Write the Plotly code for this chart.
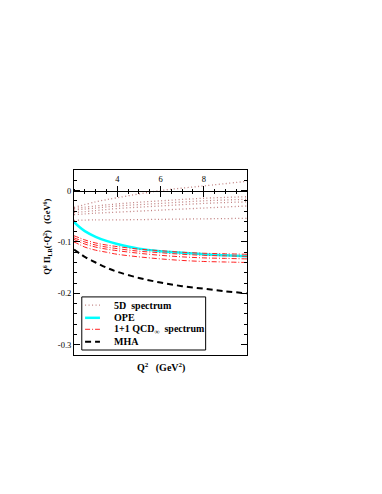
import plotly.graph_objects as go

# Q^2 sample points (GeV^2)
q2_5d = [2, 3, 4, 6, 8, 10]
spec_5d = [
    [-0.033, -0.022, -0.014, 0.000, 0.009, 0.018],
    [-0.035, -0.030, -0.026, -0.020, -0.015, -0.012],
    [-0.038, -0.034, -0.030, -0.025, -0.020, -0.017],
    [-0.043, -0.039, -0.035, -0.030, -0.025, -0.022],
    [-0.047, -0.044, -0.042, -0.038, -0.034, -0.030],
    [-0.058, -0.057, -0.057, -0.056, -0.055, -0.054],
]

q2 = [2, 2.25, 2.5, 3, 3.5, 4, 5, 6, 7, 8, 9, 10]
ope = [-0.061, -0.071, -0.079, -0.090, -0.098, -0.104, -0.113, -0.118, -0.121, -0.124, -0.126, -0.128]
mha = [-0.115, -0.122, -0.129, -0.140, -0.150, -0.158, -0.170, -0.179, -0.186, -0.191, -0.196, -0.200]
qcd_spec = [
    [-0.088, -0.092, -0.096, -0.102, -0.106, -0.109, -0.114, -0.117, -0.120, -0.122, -0.123, -0.124],
    [-0.092, -0.096, -0.100, -0.106, -0.110, -0.113, -0.118, -0.121, -0.124, -0.126, -0.127, -0.128],
    [-0.095, -0.100, -0.104, -0.110, -0.114, -0.117, -0.122, -0.126, -0.129, -0.131, -0.132, -0.133],
    [-0.100, -0.105, -0.110, -0.116, -0.120, -0.124, -0.129, -0.133, -0.136, -0.138, -0.139, -0.140],
]

x_ticks = [4, 6, 8]
y_ticks = [0, -0.1, -0.2, -0.3]
y_tick_text = ["0", "-0.1", "-0.2", "-0.3"]

legend_names = ["5D  spectrum", "OPE", "1+1 QCD<sub>\u221e</sub>  spectrum", "MHA"]

serif = "Liberation Serif"
c_5d = "#c08080"
c_ope = "#00ffff"
c_qcd = "#ff2020"

styles = [
    dict(color=c_5d, width=1.3, dash="1px,2.5px"),
    dict(color=c_ope, width=2.5),
    dict(color=c_qcd, width=1, dash="5px,2px,1px,2px"),
    dict(color="black", width=2, dash="6px,4px"),
]

fig = go.Figure()

for ys in spec_5d:
    fig.add_trace(go.Scatter(x=q2_5d, y=ys, mode="lines", line_shape="spline",
                             line=styles[0], name=legend_names[0]))

fig.add_trace(go.Scatter(x=q2, y=ope, mode="lines", line_shape="spline",
                         line=styles[1], name=legend_names[1]))

for ys in qcd_spec:
    fig.add_trace(go.Scatter(x=q2, y=ys, mode="lines", line_shape="spline",
                             line=styles[2], name=legend_names[2]))

fig.add_trace(go.Scatter(x=q2, y=mha, mode="lines", line_shape="spline",
                         line=styles[3], name=legend_names[3]))

# empty traces so the overlaid axes at y=0 get drawn
for ax in ["x2", "x3"]:
    fig.add_trace(go.Scatter(x=[None], y=[None], xaxis=ax, showlegend=False, hoverinfo="skip"))

zero_pos = 0.32 / 0.36

# hand-made legend box (plotly's own legend rows are too tall here)
shapes = [dict(type="rect", xref="paper", yref="paper", x0=0.045, x1=0.761, y0=0.027, y1=0.314,
               line=dict(color="black", width=1), fillcolor="white", layer="above")]
annotations = []
row_y = [0.270, 0.201, 0.139, 0.072]
for name, st, yy in zip(legend_names, styles, row_y):
    shapes.append(dict(type="line", xref="paper", yref="paper", x0=0.064, x1=0.150, y0=yy, y1=yy,
                       line=st, layer="above"))
    annotations.append(dict(text=name, xref="paper", yref="paper", x=0.222, y=yy,
                            xanchor="left", yanchor="middle", showarrow=False,
                            font=dict(family=serif, size=10, weight="bold")))

annotations += [
    dict(text="Q<sup>2</sup>   (GeV<sup>2</sup>)", xref="paper", yref="paper", x=0.5, y=-0.07,
         xanchor="center", yanchor="middle",
         showarrow=False, font=dict(family=serif, size=10, weight="bold")),
    dict(text="Q<sup>6</sup> \u03a0<sub>LR</sub>(-Q<sup>2</sup>)   (GeV<sup>6</sup>)",
         xref="paper", yref="paper", x=-0.155, y=0.64, textangle=-90,
         xanchor="center", yanchor="middle",
         showarrow=False, font=dict(family=serif, size=8.5, weight="bold")),
]

fig.update_layout(
    width=382, height=494,
    margin=dict(l=66, r=143, t=162, b=147),
    paper_bgcolor="white", plot_bgcolor="white",
    font=dict(family=serif, color="black", size=9),
    showlegend=False,
    xaxis=dict(range=[2, 10], showline=True, linecolor="black", linewidth=1, mirror=True,
               showgrid=False, zeroline=False, showticklabels=False, ticks=""),
    xaxis2=dict(range=[2, 10], overlaying="x", anchor="free", position=zero_pos, side="top",
                showline=True, linecolor="black", linewidth=1, showgrid=False, zeroline=False,
                tickvals=x_ticks, ticks="outside", ticklen=5, tickcolor="black",
                tickfont=dict(family=serif, size=8.5), ticklabelstandoff=0,
                minor=dict(dtick=0.5, tick0=2, ticks="outside", ticklen=2, tickcolor="black")),
    xaxis3=dict(range=[2, 10], overlaying="x", anchor="free", position=zero_pos, side="top",
                showline=False, showgrid=False, zeroline=False, showticklabels=False,
                tickvals=x_ticks, ticks="inside", ticklen=5, tickcolor="black",
                minor=dict(dtick=0.5, tick0=2, ticks="inside", ticklen=2, tickcolor="black")),
    yaxis=dict(range=[-0.32, 0.04], showline=True, linecolor="black", linewidth=1, mirror="ticks",
               showgrid=False, zeroline=False,
               tickvals=y_ticks, ticktext=y_tick_text, ticks="inside", ticklen=6, tickcolor="black",
               tickfont=dict(family=serif, size=8.5),
               minor=dict(dtick=0.02, tick0=0, ticks="inside", ticklen=3, tickcolor="black")),
    shapes=shapes,
    annotations=annotations,
)

fig.write_html("out.html")
